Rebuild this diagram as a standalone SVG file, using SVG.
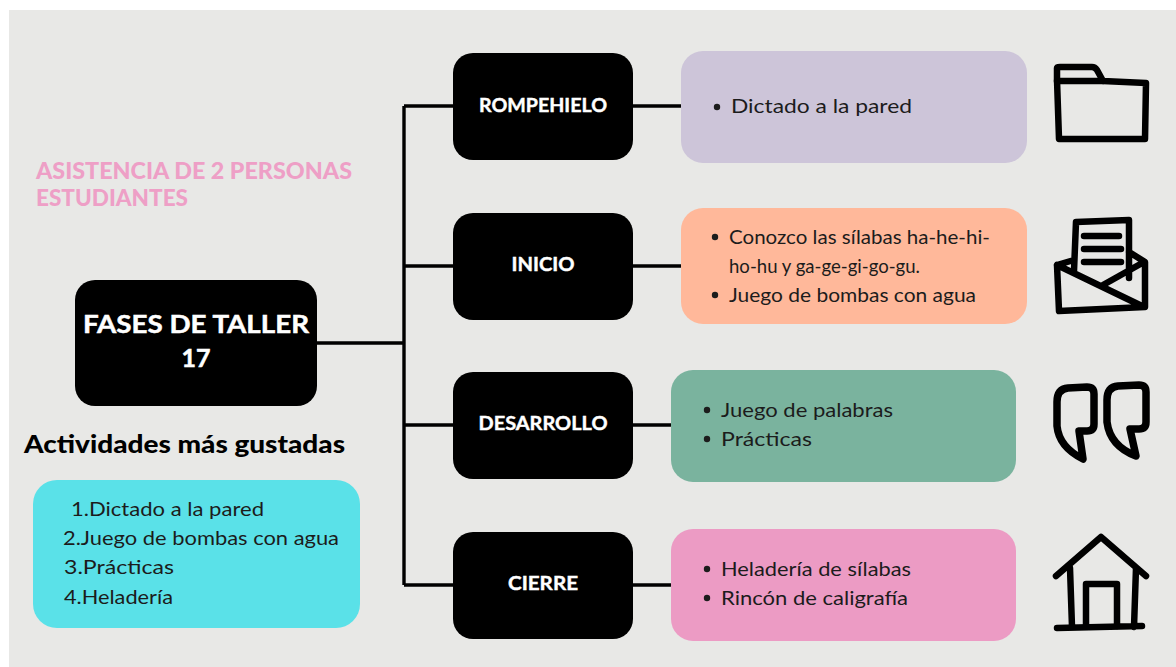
<svg xmlns="http://www.w3.org/2000/svg" width="1176" height="667" viewBox="0 0 1176 667">
<style>
.bg{fill:#e8e8e6}
.node{fill:#000}
.conn{fill:none;stroke:#000;stroke-width:3.4}
.icon{fill:none;stroke:#000;stroke-width:6.5;stroke-linecap:round;stroke-linejoin:round}
text{font-family:"Lato","Noto Sans","Liberation Sans",sans-serif}
.head{fill:#fff;font-weight:700;font-size:18px;text-anchor:middle;stroke:#fff;stroke-width:.4}
.title{fill:#fff;font-weight:700;font-size:25px;text-anchor:middle;stroke:#fff;stroke-width:.5}
.item{fill:#1c1c1c;font-size:20px}
.pink{fill:#ee9fc6;font-weight:900;font-size:22.5px}
.sub{fill:#000;font-weight:900;font-size:24.5px}
</style>
<rect width="1176" height="667" fill="#fff"/>
<rect class="bg" x="9" y="10" width="1167" height="657"/>
<g id="connectors">
<path class="conn" d="M317 343H404M404 106V585M404 106H454M404 266H454M404 425H454M404 585H454M632 106H682M632 266H682M632 425H672M632 585H672"/>
</g>
<g id="title-note"><text class="pink" x="36" y="179" textLength="316" lengthAdjust="spacingAndGlyphs">ASISTENCIA DE 2 PERSONAS</text><text class="pink" x="36" y="206" textLength="152" lengthAdjust="spacingAndGlyphs">ESTUDIANTES</text></g>
<g id="node-fases"><rect class="node" x="75" y="280" width="242" height="126" rx="20"/><text class="title" x="196" y="333" textLength="226" lengthAdjust="spacingAndGlyphs">FASES DE TALLER</text><text class="title" x="196" y="367">17</text></g>
<g id="node-rompehielo"><rect class="node" x="453" y="53" width="180" height="107" rx="20"/><text class="head" x="543" y="112" textLength="128" lengthAdjust="spacingAndGlyphs">ROMPEHIELO</text></g>
<g id="node-inicio"><rect class="node" x="453" y="213" width="180" height="107" rx="20"/><text class="head" x="543" y="271" textLength="63" lengthAdjust="spacingAndGlyphs">INICIO</text></g>
<g id="node-desarrollo"><rect class="node" x="453" y="372" width="180" height="107" rx="20"/><text class="head" x="543" y="430" textLength="129" lengthAdjust="spacingAndGlyphs">DESARROLLO</text></g>
<g id="node-cierre"><rect class="node" x="453" y="532" width="180" height="107" rx="20"/><text class="head" x="543" y="590" textLength="70" lengthAdjust="spacingAndGlyphs">CIERRE</text></g>
<g id="box-rompehielo"><rect x="681" y="51" width="346" height="112" rx="22" fill="#cdc5d9"/><circle cx="717" cy="107" r="3.2" fill="#1c1c1c"/><text class="item" x="731" y="113" textLength="181" lengthAdjust="spacingAndGlyphs">Dictado a la pared</text></g>
<g id="box-inicio"><rect x="681" y="208" width="346" height="116" rx="22" fill="#ffb89a"/><circle cx="715" cy="237" r="3.2" fill="#1c1c1c"/><text class="item" x="729" y="244" textLength="261" lengthAdjust="spacingAndGlyphs">Conozco las sílabas ha-he-hi-</text><text class="item" x="729" y="273" textLength="191" lengthAdjust="spacingAndGlyphs">ho-hu y ga-ge-gi-go-gu.</text><circle cx="715" cy="295" r="3.2" fill="#1c1c1c"/><text class="item" x="729" y="302" textLength="247" lengthAdjust="spacingAndGlyphs">Juego de bombas con agua</text></g>
<g id="box-desarrollo"><rect x="671" y="370" width="345" height="112" rx="22" fill="#7ab39e"/><circle cx="707" cy="410" r="3.2" fill="#1c1c1c"/><text class="item" x="721" y="417" textLength="172" lengthAdjust="spacingAndGlyphs">Juego de palabras</text><circle cx="707" cy="439" r="3.2" fill="#1c1c1c"/><text class="item" x="721" y="446" textLength="91" lengthAdjust="spacingAndGlyphs">Prácticas</text></g>
<g id="box-cierre"><rect x="671" y="529" width="345" height="112" rx="22" fill="#ec9bc4"/><circle cx="707" cy="569" r="3.2" fill="#1c1c1c"/><text class="item" x="721" y="576" textLength="190" lengthAdjust="spacingAndGlyphs">Heladería de sílabas</text><circle cx="707" cy="598" r="3.2" fill="#1c1c1c"/><text class="item" x="721" y="605" textLength="187" lengthAdjust="spacingAndGlyphs">Rincón de caligrafía</text></g>
<g id="favorites"><text class="sub" x="24" y="453" textLength="321" lengthAdjust="spacingAndGlyphs">Actividades más gustadas</text><rect x="33" y="480" width="327" height="148" rx="24" fill="#5ae1e8"/>
<text class="item" x="71" y="516" textLength="193" lengthAdjust="spacingAndGlyphs">1.Dictado a la pared</text><text class="item" x="63" y="545" textLength="276" lengthAdjust="spacingAndGlyphs">2.Juego de bombas con agua</text><text class="item" x="64" y="574" textLength="110" lengthAdjust="spacingAndGlyphs">3.Prácticas</text><text class="item" x="64" y="604" textLength="109" lengthAdjust="spacingAndGlyphs">4.Heladería</text></g>
<g id="icon-folder" class="icon"><path d="M1057 80V68Q1057 67 1060 67H1092Q1095 67 1097 70L1103 81L1146 83L1145 139L1059 139Z"/><path d="M1057 81H1103"/></g>
<g id="icon-mail" class="icon"><path d="M1074 271L1076 222L1129 220L1129 278M1074 260L1057 265L1059 311L1145 307L1145 262L1129 252M1057 265L1144 307M1103 285L1144 262"/><path d="M1084 236H1119M1084 249H1121M1084 262H1121"/></g>
<g id="icon-quotes" class="icon" style="stroke-width:7.5"><path d="M1068 388Q1057 389 1057 402V426Q1059 447 1083 459L1079 431H1087Q1094 431 1094 424V394Q1094 387 1087 387Z"/><path d="M1118 386Q1107 387 1107 400V422Q1110 446 1136 456L1130 429H1139Q1146 429 1146 422V392Q1146 385 1139 385Z"/></g>
<g id="icon-house" class="icon"><path d="M1056 576L1101 537L1146 576M1070 568L1072 627M1136 568L1134 627M1057 628L1142 626"/><path d="M1086 626V584H1117L1117 626"/></g>
</svg>
